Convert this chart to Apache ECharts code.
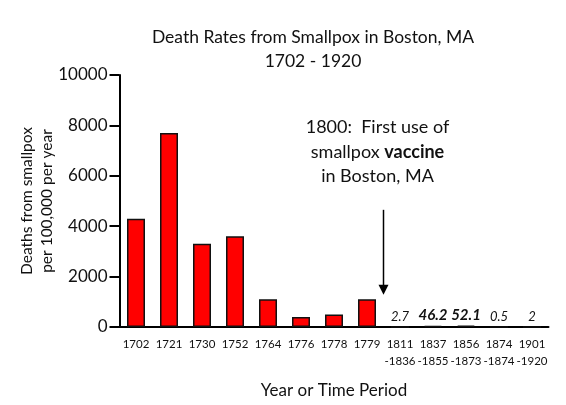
<!DOCTYPE html>
<html>
<head>
<meta charset="utf-8">
<script src="https://cdn.jsdelivr.net/npm/echarts@6/dist/echarts.min.js"></script>
<style>
  html, body { margin: 0; padding: 0; background: #fff; }
  #chart { width: 566px; height: 405px; }
</style>
</head>
<body>
<div id="chart"></div>
<script>
// 年份或时间段
var periods = ['1702', '1721', '1730', '1752', '1764', '1776', '1778', '1779',
  '1811\n-1836', '1837\n-1855', '1856\n-1873', '1874\n-1874', '1901\n-1920'];
// 每十万人年死亡数
var deathRates = [4300, 7700, 3300, 3600, 1100, 400, 500, 1100, 2.7, 46.2, 52.1, 0.5, 2];
var yTicks = [0, 2000, 4000, 6000, 8000, 10000];

var FONT = 'Lato';
var chart = echarts.init(document.getElementById('chart'));

// 小数值显示标签
function buildBars() {
  var list = [];
  for (var i = 0; i < deathRates.length; i++) {
    var v = deathRates[i];
    var item = { value: v };
    if (v < 100) {
      item.label = {
        show: true,
        position: 'top',
        distance: 3,
        fontFamily: FONT,
        fontStyle: 'italic',
        fontWeight: v > 10 ? 'bold' : 'normal',
        fontSize: v > 10 ? 15 : 13,
        color: '#111'
      };
    }
    list.push(item);
  }
  return list;
}

var option = {
  animation: false,
  textStyle: { fontFamily: FONT },
  title: {
    text: 'Death Rates from Smallpox in Boston, MA\n1702 - 1920',
    left: 308,
    top: 20,
    textAlign: 'center',
    textStyle: { fontFamily: FONT, fontWeight: 'normal', fontSize: 17.5, color: '#111', lineHeight: 24 }
  },
  grid: { left: 119.5, right: 17.5, top: 75, bottom: 78, containLabel: false },
  xAxis: {
    type: 'category',
    data: periods,
    name: 'Year or Time Period',
    nameLocation: 'middle',
    nameGap: 55,
    nameTextStyle: { fontFamily: FONT, fontSize: 17, color: '#111' },
    axisLine: { lineStyle: { color: '#000', width: 2 } },
    axisTick: { alignWithLabel: true, length: 6, lineStyle: { color: '#000', width: 2 } },
    axisLabel: { fontFamily: FONT, fontSize: 11.5, color: '#111', margin: 9, lineHeight: 17, interval: 0 }
  },
  yAxis: {
    type: 'value',
    min: yTicks[0],
    max: yTicks[yTicks.length - 1],
    interval: 2000,
    name: 'Deaths from smallpox\nper 100,000 per year',
    nameLocation: 'middle',
    nameRotate: 90,
    nameGap: 63,
    nameMoveOverlap: false,
    nameTextStyle: { fontFamily: FONT, fontSize: 15.5, color: '#111', lineHeight: 20 },
    axisLine: { show: true, lineStyle: { color: '#000', width: 2 } },
    axisTick: { show: true, length: 10, lineStyle: { color: '#000', width: 2 } },
    axisLabel: { fontFamily: FONT, fontSize: 17, color: '#111', margin: 12, formatter: function (v) { return String(v); } },
    splitLine: { show: false }
  },
  series: [{
    type: 'bar',
    data: buildBars(),
    barWidth: 18,
    itemStyle: { color: '#ff0000', borderColor: '#111', borderWidth: 1.5 }
  }]
};
chart.setOption(option);

// 注释箭头
function drawNote() {
  var x1 = chart.convertToPixel({ xAxisIndex: 0 }, 7);
  var x2 = chart.convertToPixel({ xAxisIndex: 0 }, 8);
  var ax = (x1 + x2) / 2;
  var yTop = chart.convertToPixel({ yAxisIndex: 0 }, 4650);
  var yTip = chart.convertToPixel({ yAxisIndex: 0 }, 1280);
  chart.setOption({
    graphic: [
      {
        type: 'line',
        shape: { x1: ax, y1: yTop, x2: ax, y2: yTip - 9 },
        style: { stroke: '#000', lineWidth: 1.5 }
      },
      {
        type: 'polygon',
        shape: { points: [[ax - 5, yTip - 10], [ax + 5, yTip - 10], [ax, yTip]] },
        style: { fill: '#000' }
      },
      {
        type: 'text',
        x: ax - 6,
        y: 115,
        style: {
          text: '1800:  First use of\nsmallpox {b|vaccine}\nin Boston, MA',
          align: 'center',
          fontFamily: FONT,
          fontSize: 18,
          lineHeight: 24.5,
          fill: '#111',
          rich: { b: { fontWeight: 'bold', fontFamily: FONT, fontSize: 18 } }
        }
      }
    ]
  });
}
drawNote();
</script>
</body>
</html>
